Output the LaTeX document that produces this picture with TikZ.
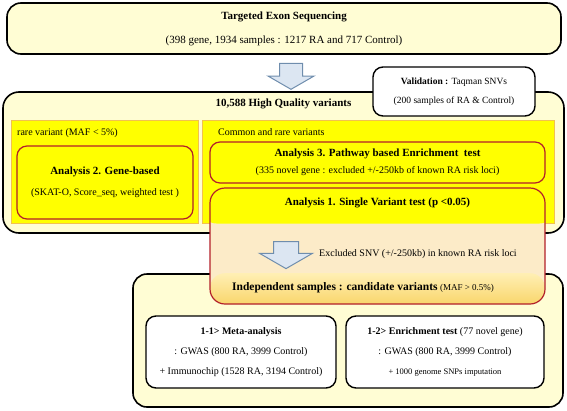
\documentclass[tikz,border=0pt]{standalone}
\usepackage{fontspec}
\setmainfont{Liberation Serif}
\usepackage{tikz}
\usetikzlibrary{shapes.geometric, shapes.arrows, positioning}
\definecolor{cream}{HTML}{FFFDD4}
\definecolor{panelyel}{HTML}{FFFF00}
\definecolor{panelline}{HTML}{F2C14E}
\definecolor{darkred}{HTML}{B3202A}
\definecolor{arrowfill}{HTML}{DCE6F2}
\definecolor{arrowline}{HTML}{6F8DAD}
\definecolor{peach}{HTML}{FCEBC8}
\definecolor{goldtop}{HTML}{FFEFB4}
\definecolor{goldbot}{HTML}{F9D66C}
\newcommand{\hd}[1]{{\fontsize{11}{13}\selectfont\bfseries #1}}
\tikzstyle{outer} = [rectangle, rounded corners=14pt, draw=black, line width=1.6pt, fill=cream, inner sep=0pt, align=center]
\tikzstyle{whitebox} = [rectangle, rounded corners=10pt, draw=black, line width=1.4pt, fill=white, inner sep=0pt, align=center]
\tikzstyle{panel} = [rectangle, draw=panelline, line width=1pt, fill=panelyel, inner sep=0pt]
\tikzstyle{analysis} = [rectangle, rounded corners=10pt, draw=darkred, line width=1.2pt, fill=panelyel, inner sep=0pt, align=center]
\tikzstyle{blockarrow} = [single arrow, rotate=-90, draw=arrowline, line width=1pt, fill=arrowfill, inner xsep=0pt, inner ysep=11pt, minimum width=45pt, minimum height=26pt, single arrow head extend=11.5pt, single arrow tip angle=120]

\begin{document}
\begin{tikzpicture}[x=1pt, y=-1pt, font=\fontsize{10}{12}\selectfont]
        \useasboundingbox (0,0) rectangle (567,410);

        \node (seq) [outer, minimum width=554pt, minimum height=51pt, font=\fontsize{11}{13}\selectfont] at (284,28.5) {\textbf{Targeted Exon Sequencing}\\[11pt](398 gene, 1934 samples : 1217 RA and 717 Control)};
        \node (arr1) [blockarrow] at (291,73) {};
        \node (hq) [outer, rounded corners=16pt, minimum width=561pt, minimum height=141pt] at (283.5,162.5) {};
        \node (hqtitle) [below=7pt of hq.north, inner sep=0pt] {\hd{10,588 High Quality variants}};
        \node (valid) [whitebox, minimum width=162pt, minimum height=49pt, font=\fontsize{9.5}{11.5}\selectfont] at (454,91.5) {\textbf{Validation :} Taqman SNVs\\[7.5pt](200 samples of RA \& Control)};
        \node (lpanel) [panel, minimum width=187pt, minimum height=103pt] at (104.5,171.5) {};
        \node (rpanel) [panel, minimum width=352pt, minimum height=103pt] at (378,171.5) {};
        \node (rarelbl) [anchor=west, inner sep=0pt] at (17,133) {rare variant (MAF < 5\%)};
        \node (comlbl) [anchor=west, inner sep=0pt] at (218,132) {Common and rare variants};
        \node (gene) [analysis, minimum width=176pt, minimum height=73pt] at (105,182.5) {\hd{Analysis 2. Gene-based}\\[9pt](SKAT-O, Score\_seq, weighted test )};
        \node (pathway) [analysis, minimum width=335pt, minimum height=41pt] at (377.5,162.5) {\hd{Analysis 3. Pathway based Enrichment\ \ test}\\[5pt](335 novel gene : excluded +/-250kb of known RA risk loci)};
        \node (bottom) [outer, minimum width=430pt, minimum height=133pt] at (348,340.5) {};
        \node (single) [analysis, rounded corners=15pt, fill=peach, minimum width=335pt, minimum height=116pt,
            path picture={
              \fill[panelyel] (rpanel.north west) rectangle (rpanel.south east);
              \shade[top color=goldtop, bottom color=goldbot] (path picture bounding box.south west) rectangle (bottom.north -| path picture bounding box.east);
            }] at (377.5,246) {};
        \node (singletitle) [below=10pt of single.north, inner sep=0pt] {\hd{Analysis 1. Single Variant test (p <0.05)}};
        \node (arr2) [blockarrow, inner ysep=12pt, minimum width=52pt, minimum height=27pt, single arrow head extend=14pt] at (286,251.5) {};
        \node (exclbl) [anchor=west, inner sep=0pt] at (319,254) {Excluded SNV (+/-250kb) in known RA risk loci};
        \node (indep) [anchor=west, inner sep=0pt] at (232,288) {{\fontsize{11.5}{13}\selectfont\bfseries Independent samples : candidate variants} {\fontsize{9}{11}\selectfont(MAF > 0.5\%)}};
        \node (meta) [whitebox, minimum width=190pt, minimum height=72pt] at (241,352) {\textbf{1-1> Meta-analysis}\\[8pt]: GWAS (800 RA, 3999 Control)\\[8pt]+ Immunochip (1528 RA, 3194 Control)};
        \node (enrich) [whitebox, minimum width=198pt, minimum height=72pt] at (445,352) {\textbf{1-2> Enrichment test} (77 novel gene)\\[8pt]: GWAS (800 RA, 3999 Control)\\[8pt]{\fontsize{8.5}{10}\selectfont + 1000 genome SNPs imputation}};

\end{tikzpicture}
\end{document}
